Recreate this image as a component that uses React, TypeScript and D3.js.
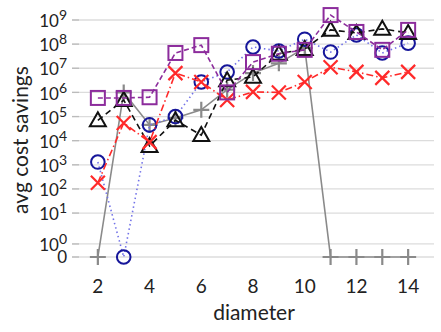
import React from "react";
import * as d3 from "d3";

// diameter on x, avg cost savings on y (0 means no savings)
const diameters = [2, 3, 4, 5, 6, 7, 8, 9, 10, 11, 12, 13, 14];
const grayPlus = [0, 1.0e6, 4.5e4, 8.7e4, 1.9e5, 1.3e6, 6.3e6, 1.6e7, 7.0e7, 0, 0, 0, 0];
const blueCircle = [1.3e3, 0, 4.5e4, 1.0e5, 2.7e6, 7.0e6, 7.6e7, 5.2e7, 1.6e8, 4.7e7, 2.4e8, 4.3e7, 1.1e8];
const blackTriangle = [7.0e4, 4.8e5, 6.0e3, 7.0e4, 1.7e4, 3.2e6, 4.4e6, 4.0e7, 6.3e7, 3.9e8, 2.9e8, 4.3e8, 2.9e8];
const redCross = [1.8e2, 5.4e4, 8.7e3, 6.3e6, 2.7e6, 4.8e5, 1.05e6, 1.0e6, 2.7e6, 1.1e7, 7.1e6, 4.0e6, 7.1e6];
const purpleSquare = [5.9e5, 5.9e5, 6.3e5, 4.3e7, 9.1e7, 1.0e6, 1.8e7, 4.0e7, 5.8e7, 1.6e9, 3.2e8, 5.8e7, 3.9e8];
const yTickExps = [0, 1, 2, 3, 4, 5, 6, 7, 8, 9];
const xTicks = [2, 4, 6, 8, 10, 12, 14];

const W = 441;
const H = 332;
const FONT = "'Linux Biolinum', Lato, 'Open Sans', sans-serif";

// broken log axis: 0 sits below 10^0, and 10^0..10^1 is a bit stretched
const tf = (v: number) => {
  if (v <= 0) return -0.82;
  if (v < 10) return 1 - 1.28 * (1 - Math.log10(v));
  return Math.log10(v);
};

const x = d3.scaleLinear().domain([1, 15]).range([72, 434]);
const yT = d3.scaleLinear().domain([-0.82, 9]).range([257, 20]);
const y = (v: number) => yT(tf(v));

type Series = {
  vals: number[];
  line: string;
  marker: string;
  dash: string;
  width: number;
  shape: string;
};

const series: Series[] = [
  { vals: grayPlus, line: "#8a8a8a", marker: "#8a8a8a", dash: "", width: 1.6, shape: "plus" },
  { vals: blueCircle, line: "#7272e8", marker: "#16169a", dash: "1.5,3", width: 1.6, shape: "circle" },
  { vals: blackTriangle, line: "#111", marker: "#111", dash: "6,4", width: 1.6, shape: "triangle" },
  { vals: redCross, line: "#ff2a2a", marker: "#ff2a2a", dash: "7,3,1.5,3", width: 1.6, shape: "cross" },
  { vals: purpleSquare, line: "#8c2c9c", marker: "#8c2c9c", dash: "5,3", width: 1.6, shape: "square" },
];

function Marker({ shape, cx, cy, color }: { shape: string; cx: number; cy: number; color: string }) {
  const s = 7;
  const common = { fill: "none", stroke: color, strokeWidth: 2 };
  if (shape === "circle") return <circle cx={cx} cy={cy} r={6.8} {...common} />;
  if (shape === "square") return <rect x={cx - s} y={cy - s} width={2 * s} height={2 * s} {...common} />;
  if (shape === "triangle")
    return <path d={`M${cx},${cy - 8}L${cx + 8},${cy + 6}L${cx - 8},${cy + 6}Z`} {...common} />;
  if (shape === "cross")
    return <path d={`M${cx - s},${cy - s}L${cx + s},${cy + s}M${cx - s},${cy + s}L${cx + s},${cy - s}`} {...common} strokeWidth={2.2} />;
  return <path d={`M${cx - 8},${cy}L${cx + 8},${cy}M${cx},${cy - 8}L${cx},${cy + 8}`} {...common} strokeWidth={2.2} />;
}

export default function App() {
  const line = d3
    .line<number>()
    .x((_, i) => x(diameters[i]))
    .y((d) => y(d));

  const yTicks = [0, ...yTickExps.map((e) => Math.pow(10, e))];

  return (
    <svg width={W} height={H} style={{ position: "absolute", left: 0, top: 0, fontFamily: FONT }}>
      {yTicks.map((v, i) => (
        <g key={i}>
          <line x1={72} x2={434} y1={y(v)} y2={y(v)} stroke="#dcdcdc" strokeWidth={1.3} />
          <line x1={72} x2={79} y1={y(v)} y2={y(v)} stroke="#bbb" strokeWidth={1.3} />
          {v === 0 ? (
            <text x={67} y={y(v)} dy="0.36em" textAnchor="end" fontSize={17} fill="#222">0</text>
          ) : (
            <text x={67} y={y(v)} dy="0.42em" textAnchor="end" fontSize={17} fill="#222">
              10
              <tspan dy="-0.5em" fontSize={14}>{yTickExps[i - 1]}</tspan>
            </text>
          )}
        </g>
      ))}
      {xTicks.map((t) => (
        <text key={t} x={x(t)} y={293} textAnchor="middle" fontSize={19} fill="#222">{t}</text>
      ))}
      <text x={254} y={320} textAnchor="middle" fontSize={21} fill="#222">diameter</text>
      <text transform="translate(28,140) rotate(-90)" textAnchor="middle" fontSize={21} fill="#222">avg cost savings</text>

      {series.map((s, k) => (
        <g key={k}>
          <path d={line(s.vals) || ""} fill="none" stroke={s.line} strokeWidth={s.width} strokeDasharray={s.dash} />
          {s.vals.map((v, i) => (
            <Marker key={i} shape={s.shape} cx={x(diameters[i])} cy={y(v)} color={s.marker} />
          ))}
        </g>
      ))}
    </svg>
  );
}
